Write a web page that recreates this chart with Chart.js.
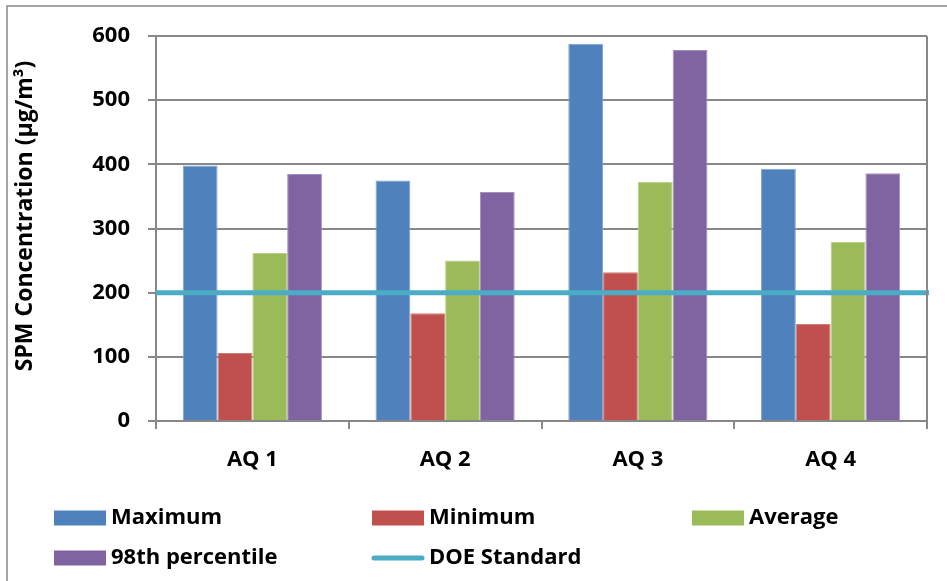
<!DOCTYPE html>
<html>
<head>
<meta charset="utf-8">
<script src="https://cdn.jsdelivr.net/npm/chart.js@4"></script>
<style>
  html, body { margin: 0; padding: 0; background: #fff; }
  canvas { display: block; }
</style>
</head>
<body>
<canvas id="chart" width="947" height="581"></canvas>
<script>
// Monitoring stations
const categories = ['AQ 1', 'AQ 2', 'AQ 3', 'AQ 4'];

// SPM concentrations (µg/m³) per station
const maximum = [398, 375, 588, 393];
const minimum = [106, 168, 232, 151];
const average = [262, 250, 373, 279];
const percentile98 = [385, 357, 578, 386];

// Regulatory limit drawn as a horizontal line
const doeStandard = 200;

// Y axis tick values
const yTicks = [0, 100, 200, 300, 400, 500, 600];

const FONT = '"Open Sans", "DejaVu Sans", sans-serif';
const GRID = '#888888';
const DOE_COLOR = '#4bacc6';

// White page, thin outer frame, plot-area frame
const framePlugin = {
  id: 'frame',
  beforeDraw(chart) {
    const { ctx, width, height } = chart;
    ctx.save();
    ctx.fillStyle = '#ffffff';
    ctx.fillRect(0, 0, width, height);
    ctx.strokeStyle = GRID;
    ctx.lineWidth = 1.5;
    ctx.beginPath();
    ctx.moveTo(7, height);
    ctx.lineTo(7, 6);
    ctx.lineTo(width, 6);
    ctx.stroke();
    ctx.restore();
  },
  afterDraw(chart) {
    const { ctx, chartArea: a } = chart;
    ctx.save();
    ctx.strokeStyle = GRID;
    ctx.lineWidth = 2;
    ctx.beginPath();
    ctx.moveTo(a.right, a.top);
    ctx.lineTo(a.right, a.bottom);
    ctx.stroke();
    ctx.restore();
  }
};

// DOE standard: full-width horizontal line placed with the y scale
const standardLinePlugin = {
  id: 'standardLine',
  afterDatasetsDraw(chart) {
    const { ctx, chartArea: a, scales } = chart;
    const y = scales.y.getPixelForValue(doeStandard);
    ctx.save();
    ctx.strokeStyle = DOE_COLOR;
    ctx.lineWidth = 5;
    ctx.beginPath();
    ctx.moveTo(a.left, y);
    ctx.lineTo(a.right + 2, y);
    ctx.stroke();
    ctx.restore();
  }
};

// Rotated y-axis title
const yTitlePlugin = {
  id: 'yTitle',
  afterDraw(chart) {
    const { ctx } = chart;
    ctx.save();
    ctx.translate(25, 216);
    ctx.rotate(-Math.PI / 2);
    ctx.fillStyle = '#000';
    ctx.font = 'bold 23px ' + FONT;
    ctx.textAlign = 'center';
    ctx.textBaseline = 'middle';
    ctx.fillText('SPM Concentration (µg/m³)', 0, 0);
    ctx.restore();
  }
};

// Three-column legend under the plot
const legendItems = [
  { label: 'Maximum', kind: 'box', dataset: 0 },
  { label: 'Minimum', kind: 'box', dataset: 1 },
  { label: 'Average', kind: 'box', dataset: 2 },
  { label: '98th percentile', kind: 'box', dataset: 3 },
  { label: 'DOE Standard', kind: 'line' }
];

const gridLegendPlugin = {
  id: 'gridLegend',
  afterDraw(chart) {
    const { ctx } = chart;
    const cols = [54, 372, 692];
    const rows = [518, 558];
    ctx.save();
    ctx.font = 'bold 22px ' + FONT;
    ctx.textBaseline = 'middle';
    ctx.textAlign = 'left';
    legendItems.forEach((item, i) => {
      const x = cols[i % 3];
      const y = rows[Math.floor(i / 3)];
      if (item.kind === 'line') {
        ctx.strokeStyle = DOE_COLOR;
        ctx.lineWidth = 5;
        ctx.lineCap = 'round';
        ctx.beginPath();
        ctx.moveTo(x + 2, y);
        ctx.lineTo(x + 50, y);
        ctx.stroke();
      } else {
        ctx.fillStyle = chart.data.datasets[item.dataset].backgroundColor;
        ctx.fillRect(x, y - 7.5, 52, 15);
      }
      ctx.fillStyle = '#000';
      ctx.fillText(item.label, x + 57, y);
    });
    ctx.restore();
  }
};

const barStyle = (color, edge) => ({
  backgroundColor: color,
  borderColor: edge,
  borderWidth: 1
});

new Chart(document.getElementById('chart'), {
  type: 'bar',
  data: {
    labels: categories,
    datasets: [
      { label: 'Maximum', data: maximum, ...barStyle('#4f81bd', '#7fa3cf') },
      { label: 'Minimum', data: minimum, ...barStyle('#c0504d', '#d07d7b') },
      { label: 'Average', data: average, ...barStyle('#9bbb59', '#b7cf86') },
      { label: '98th percentile', data: percentile98, ...barStyle('#8064a2', '#a48fbe') }
    ]
  },
  options: {
    responsive: false,
    animation: false,
    devicePixelRatio: 1,
    barPercentage: 1,
    categoryPercentage: 0.722,
    layout: { padding: { left: 8, top: 36, right: 20, bottom: 100 } },
    plugins: {
      legend: { display: false },
      tooltip: { enabled: false }
    },
    scales: {
      x: {
        type: 'category',
        offset: true,
        grid: {
          offset: true,
          drawOnChartArea: false,
          drawTicks: true,
          tickLength: 8,
          color: GRID,
          lineWidth: 2
        },
        border: { color: GRID, width: 2 },
        ticks: {
          color: '#000',
          padding: 18,
          font: { family: FONT, size: 22, weight: 'bold' }
        },
        afterFit(scale) { scale.height = 60; }
      },
      y: {
        min: 0,
        max: 600,
        afterBuildTicks(scale) { scale.ticks = yTicks.map(v => ({ value: v })); },
        grid: {
          color: GRID,
          lineWidth: 2,
          drawTicks: true,
          tickLength: 8
        },
        border: { color: GRID, width: 2 },
        ticks: {
          color: '#000',
          padding: 18,
          font: { family: FONT, size: 22, weight: 'bold' }
        },
        afterFit(scale) { scale.width = 148; }
      }
    }
  },
  plugins: [framePlugin, standardLinePlugin, yTitlePlugin, gridLegendPlugin]
});
</script>
</body>
</html>
